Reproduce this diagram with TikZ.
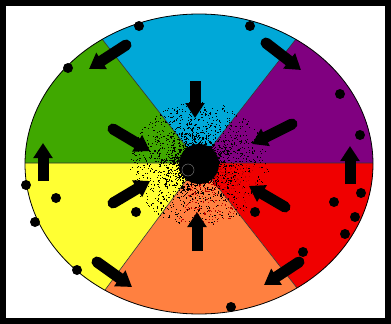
\documentclass[tikz,border=0pt]{standalone}
\usetikzlibrary{arrows.meta}
\definecolor{cblue}{RGB}{0,168,216}
\definecolor{cpurple}{RGB}{128,0,128}
\definecolor{cred}{RGB}{240,0,0}
\definecolor{corange}{RGB}{255,128,64}
\definecolor{cyellow}{RGB}{255,255,51}
\definecolor{cgreen}{RGB}{64,168,0}
\definecolor{dotred}{RGB}{190,0,0}
\tikzset{
  blockarrow/.style={line width=11pt, -{Triangle[length=15pt 0 0,width=18.5pt 0 0]}},
  roundarrow/.style={blockarrow, line cap=round},
  bigdot/.style={fill=black},
  sectorline/.style={line width=0.6pt, black!80}
}
\begin{document}
\begin{tikzpicture}[x=1pt,y=-1pt]
\useasboundingbox (0,0) rectangle (391,324);
\fill[white] (0,0) rectangle (391,324);
\coordinate (c) at (199,163);
\coordinate (UL) at (-92,-209);
\coordinate (UR) at (490,-209);
\coordinate (LL) at (-83,544);
\coordinate (LR) at (493,538);
\coordinate (E) at (800,163);
\coordinate (W) at (-400,163);
\begin{scope}
  \clip (199,164) ellipse [x radius=174pt, y radius=150pt];
  \fill[cblue] (c) -- (UL) -- (UR) -- cycle;
  \fill[cpurple] (c) -- (UR) -- (800,-209) -- (E) -- cycle;
  \fill[cred] (c) -- (E) -- (800,538) -- (LR) -- cycle;
  \fill[corange] (c) -- (LR) -- (LL) -- cycle;
  \fill[cyellow] (c) -- (LL) -- (-400,544) -- (W) -- cycle;
  \fill[cgreen] (c) -- (W) -- (-400,-209) -- (UL) -- cycle;
  \draw[sectorline] (c) -- (UL) (c) -- (UR) (c) -- (LL) (c) -- (LR) (c) -- (E) (c) -- (W);
\end{scope}
\draw[line width=0.8pt] (199,164) ellipse [x radius=174pt, y radius=150pt];
% scatter
\pgfmathsetseed{7}
\foreach \i in {1,...,2000}{
  \pgfmathsetmacro{\ang}{360*rnd}
  \pgfmathsetmacro{\rad}{18+46*rnd^1.5}
  \pgfmathtruncatemacro{\isred}{and(\ang>-5,\ang<110)*(rnd<0.5)}
  \ifnum\isred=1 \def\dc{dotred}\else\def\dc{black}\fi
  \fill[\dc] ({199+1.08*\rad*cos(\ang)},{164+0.98*\rad*sin(\ang)}) rectangle ++(1.1,1.1);
}
% center
\fill (199,164) circle [radius=20pt];
\draw[black!55, line width=0.5pt] (188,170) circle [radius=6pt];
% arrows
\coordinate (a1t) at (195,81);  \coordinate (a1h) at (195,118);
\coordinate (a2t) at (126,45);  \coordinate (a2h) at (89,69);
\coordinate (a3t) at (113,129); \coordinate (a3h) at (150,151);
\coordinate (a4t) at (43,181);  \coordinate (a4h) at (43,143);
\coordinate (a5t) at (113,203); \coordinate (a5h) at (150,181);
\coordinate (a6t) at (97,262);  \coordinate (a6h) at (132,287);
\coordinate (a7t) at (197,251); \coordinate (a7h) at (197,212);
\coordinate (a8t) at (299,262); \coordinate (a8h) at (264,285);
\coordinate (a9t) at (285,207); \coordinate (a9h) at (249,186);
\coordinate (a10t) at (350,184); \coordinate (a10h) at (350,146);
\coordinate (a11t) at (292,124); \coordinate (a11h) at (252,144);
\coordinate (a12t) at (266,43);  \coordinate (a12h) at (301,70);
\draw[blockarrow] (a1t) -- (a1h);
\draw[roundarrow] (a2t) -- (a2h);
\draw[roundarrow] (a3t) -- (a3h);
\draw[blockarrow] (a4t) -- (a4h);
\draw[roundarrow] (a5t) -- (a5h);
\draw[roundarrow] (a6t) -- (a6h);
\draw[blockarrow] (a7t) -- (a7h);
\draw[roundarrow] (a8t) -- (a8h);
\draw[roundarrow] (a9t) -- (a9h);
\draw[blockarrow] (a10t) -- (a10h);
\draw[roundarrow] (a11t) -- (a11h);
\draw[roundarrow] (a12t) -- (a12h);
% dots
\foreach \x/\y in {139/26, 68/68, 250/26, 340/94, 360/135, 26/185, 56/198, 35/222,
  136/212, 77/270, 361/193, 334/202, 355/217, 345/234, 255/212, 303/252, 231/307}{
  \fill[bigdot] (\x,\y) circle [radius=5pt];
}
% frame
\draw[line width=6pt] (3,3) rectangle (388,321);
\end{tikzpicture}
\end{document}
